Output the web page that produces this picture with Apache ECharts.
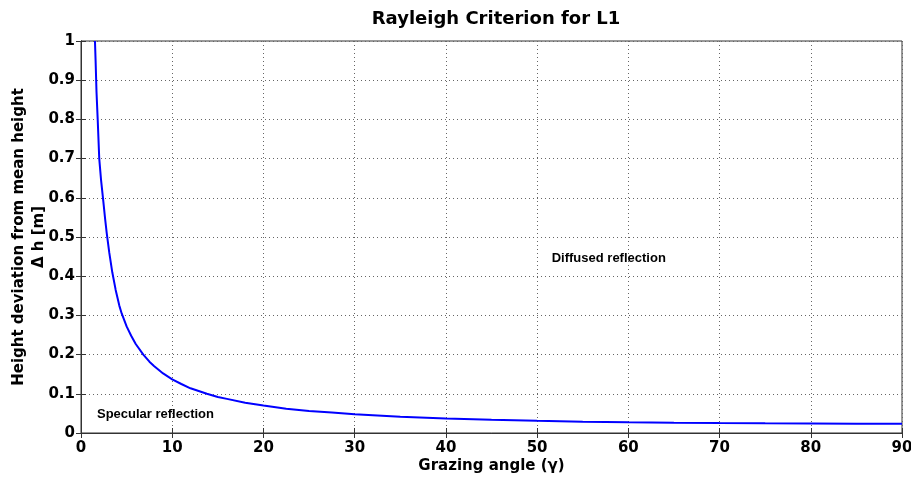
<!DOCTYPE html>
<html>
<head>
<meta charset="utf-8">
<script src="https://cdn.jsdelivr.net/npm/echarts@6/dist/echarts.min.js"></script>
<style>html,body{margin:0;padding:0;background:#fff;}#c{width:911px;height:481px;}</style>
</head>
<body>
<div id="c"></div>
<script>
var titleText = 'Rayleigh Criterion for L1';
var xName = 'Grazing angle (\u03b3)';
var yName = 'Height deviation from mean height\n\u0394 h [m]';
var angles = [1.53, 1.6, 1.7, 1.83, 2.0, 2.2, 2.45, 2.65, 2.82, 3.1, 3.43, 3.8, 4.2, 4.46, 5, 5.5, 6, 6.83, 7.5, 8, 9, 10, 11, 12, 13.8, 15, 16, 18, 20, 22.5, 25, 27.5, 30, 35, 40, 45, 50, 55, 60, 65, 70, 75, 80, 85, 90];
var heights = [1.0, 0.95, 0.87, 0.8, 0.7, 0.645, 0.59, 0.545, 0.51, 0.46, 0.41, 0.365, 0.325, 0.305, 0.272, 0.248, 0.227, 0.2, 0.182, 0.171, 0.152, 0.137, 0.125, 0.114, 0.1, 0.092, 0.087, 0.077, 0.07, 0.062, 0.056, 0.052, 0.048, 0.0415, 0.037, 0.0335, 0.031, 0.029, 0.0275, 0.0263, 0.0253, 0.0246, 0.0242, 0.0239, 0.0238];
var notes = [
  {text: 'Specular reflection', x: 1.75, y: 0.048},
  {text: 'Diffused reflection', x: 51.6, y: 0.446}
];
</script>
<script>
var chart = echarts.init(document.getElementById('c'), null, {renderer: 'canvas'});
var F = 'DejaVu Sans';
var data = angles.map(function (a, i) { return [a, heights[i]]; });
var gridLine = {show: true, lineStyle: {color: '#666', type: [1, 3], width: 1}};
var option = {
  backgroundColor: '#fff',
  animation: false,
  title: {
    text: titleText, left: 491, top: 5, textAlign: 'center',
    textStyle: {fontFamily: F, fontWeight: 'bold', fontSize: 18, color: '#000'}
  },
  grid: {left: 81, right: 9, top: 41, bottom: 48, show: true, borderColor: '#333', borderWidth: 1, containLabel: false, outerBoundsMode: 'none'},
  xAxis: [{
    type: 'value', min: 0, max: 90, interval: 10,
    name: xName, nameLocation: 'middle', nameGap: 26, nameMoveOverlap: false,
    nameTextStyle: {fontFamily: F, fontWeight: 'bold', fontSize: 15, color: '#000'},
    axisLine: {show: true, onZero: false, lineStyle: {color: '#333'}},
    axisTick: {show: true, inside: true, length: 5, lineStyle: {color: '#333'}},
    axisLabel: {fontFamily: F, fontWeight: 'bold', fontSize: 15, color: '#000', margin: 8},
    splitLine: gridLine
  }, {
    type: 'value', min: 0, max: 90, interval: 10, position: 'top',
    axisLine: {show: true, lineStyle: {color: '#333'}},
    axisTick: {show: true, inside: true, length: 5, lineStyle: {color: '#333'}},
    axisLabel: {show: false}, splitLine: {show: false}
  }],
  yAxis: [{
    type: 'value', min: 0, max: 1, interval: 0.1,
    name: yName, nameLocation: 'middle', nameGap: 32, nameRotate: 90, nameMoveOverlap: false,
    nameTextStyle: {fontFamily: F, fontWeight: 'bold', fontSize: 15, color: '#000', lineHeight: 20},
    axisLine: {show: true, onZero: false, lineStyle: {color: '#333'}},
    axisTick: {show: true, inside: true, length: 5, lineStyle: {color: '#333'}},
    axisLabel: {fontFamily: F, fontWeight: 'bold', fontSize: 15, color: '#000', margin: 6},
    splitLine: gridLine
  }, {
    type: 'value', min: 0, max: 1, interval: 0.1, position: 'right',
    axisLine: {show: true, lineStyle: {color: '#333'}},
    axisTick: {show: true, inside: true, length: 5, lineStyle: {color: '#333'}},
    axisLabel: {show: false}, splitLine: {show: false}
  }],
  series: [{
    type: 'line', data: data, xAxisIndex: 0, yAxisIndex: 0,
    smooth: false, showSymbol: false, symbol: 'none',
    lineStyle: {color: '#0000ff', width: 2},
    markPoint: {
      symbol: 'circle', symbolSize: 0, silent: true,
      label: {show: true, position: 'right', distance: 0, formatter: '{b}', fontFamily: 'Liberation Sans', fontWeight: 'bold', fontSize: 13, color: '#000'},
      data: notes.map(function (n) { return {name: n.text, coord: [n.x, n.y]}; })
    }
  }]
};
chart.setOption(option);
</script>
</body>
</html>
